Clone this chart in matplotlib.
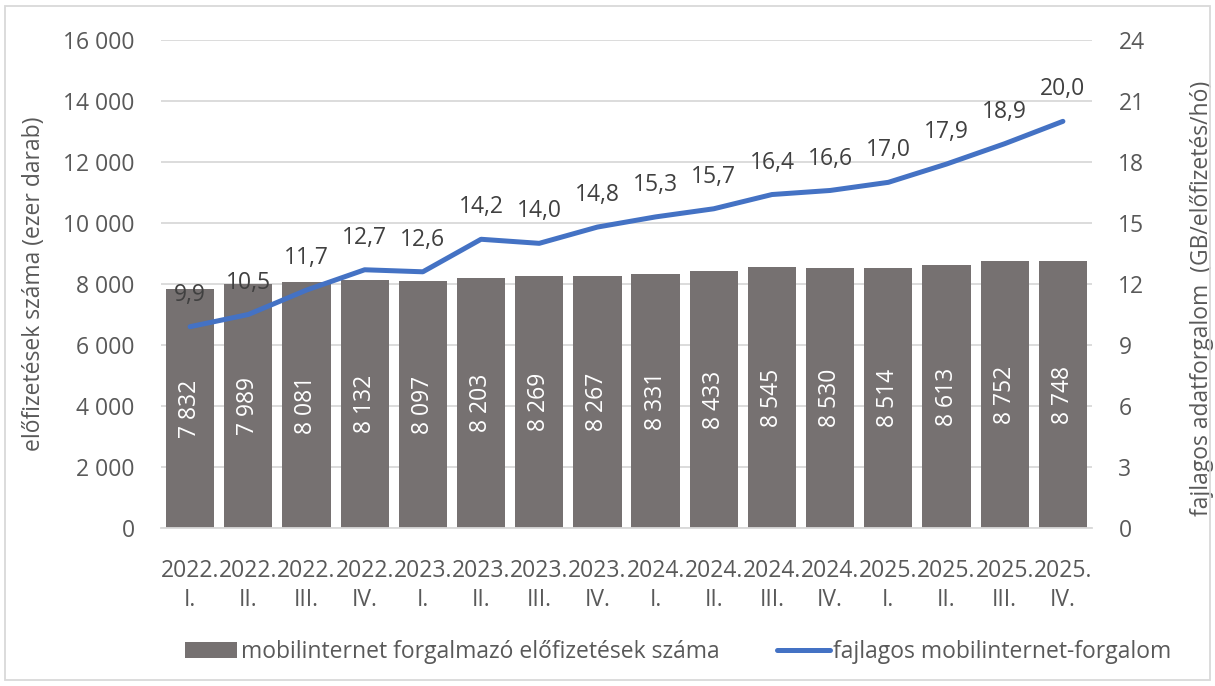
import matplotlib
matplotlib.use("Agg")
import matplotlib.pyplot as plt
from matplotlib.patches import Rectangle
import numpy as np

years = ['2022', '2022', '2022', '2022', '2023', '2023', '2023', '2023',
         '2024', '2024', '2024', '2024', '2025', '2025', '2025', '2025']
quarters = ['I.', 'II.', 'III.', 'IV.'] * 4
subscriptions = [7832, 7989, 8081, 8132, 8097, 8203, 8269, 8267,
                 8331, 8433, 8545, 8530, 8514, 8613, 8752, 8748]
traffic = [9.9, 10.5, 11.7, 12.7, 12.6, 14.2, 14.0, 14.8,
           15.3, 15.7, 16.4, 16.6, 17.0, 17.9, 18.9, 20.0]
left_ticks = [0, 2000, 4000, 6000, 8000, 10000, 12000, 14000, 16000]
right_ticks = [0, 3, 6, 9, 12, 15, 18, 21, 24]

bar_color = '#767171'
line_color = '#4472C4'
text_color = '#595959'
grid_color = '#D9D9D9'
fs = 16.5

plt.rcParams['font.family'] = ['Open Sans', 'DejaVu Sans']

fig = plt.figure(figsize=(12.15, 6.86), dpi=100)
ax = fig.add_axes([161 / 1215, 1 - 528 / 686, (1092 - 161) / 1215, 488 / 686])
ax2 = ax.twinx()

x = np.arange(len(subscriptions))
labels = [f'{y}.\n{q}' for y, q in zip(years, quarters)]

ax.set_axisbelow(True)
ax.yaxis.grid(True, color=grid_color, linewidth=1.3)
bars = ax.bar(x, subscriptions, width=0.83, color=bar_color, zorder=2,
              label='mobilinternet forgalmazó előfizetések száma')
for xi, v in zip(x, subscriptions):
    ax.text(xi, v / 2, f'{v:,}'.replace(',', ' '), ha='center', va='center',
            rotation=90, color='white', fontsize=fs, zorder=3)

ax.set_xlim(-0.5, len(x) - 0.5)
ax.set_ylim(0, 16000)
ax.set_yticks(left_ticks)
ax.set_yticklabels([f'{t:,}'.replace(',', ' ') for t in left_ticks])
ax.set_xticks(x)
ax.set_xticklabels(labels, linespacing=1.3)
ax.tick_params(axis='both', length=0, colors=text_color, labelsize=fs)
ax.tick_params(axis='y', pad=19)
ax.tick_params(axis='x', pad=22)
ax.set_ylabel('előfizetések száma (ezer darab)', color=text_color, fontsize=fs, labelpad=12)

line, = ax2.plot(x, traffic, color=line_color, linewidth=3.6, zorder=4,
                 solid_capstyle='round', label='fajlagos mobilinternet-forgalom')
for xi, v in zip(x, traffic):
    ax2.annotate(f'{v:.1f}'.replace('.', ','), (xi, v), xytext=(0, 23),
                 textcoords='offset points', ha='center', va='center',
                 color='#404040', fontsize=fs)
ax2.set_ylim(0, 24)
ax2.set_yticks(right_ticks)
ax2.tick_params(axis='y', length=0, colors=text_color, labelsize=fs, pad=19)
ax2.set_ylabel('fajlagos adatforgalom  (GB/előfizetés/hó)', color=text_color,
               fontsize=fs, labelpad=26)
ax2.yaxis.set_label_coords(1.105, 0.47)

for a in (ax, ax2):
    for s in a.spines.values():
        s.set_visible(False)
ax.spines['bottom'].set_visible(True)
ax.spines['bottom'].set_color(grid_color)
ax.spines['bottom'].set_linewidth(1.3)

fig.legend(handles=[bars, line], loc='center', bbox_to_anchor=(678 / 1215, 1 - 652 / 686),
           ncol=2, frameon=False, fontsize=fs, labelcolor=text_color,
           handlelength=2.3, handletextpad=0.15, columnspacing=2.5)

fig.patches.append(Rectangle((5 / 1215, 6 / 686), 1205 / 1215, 674 / 686,
                             transform=fig.transFigure, fill=False,
                             edgecolor='#D9D9D9', linewidth=1.3))

fig.savefig('out.png', dpi=100)
